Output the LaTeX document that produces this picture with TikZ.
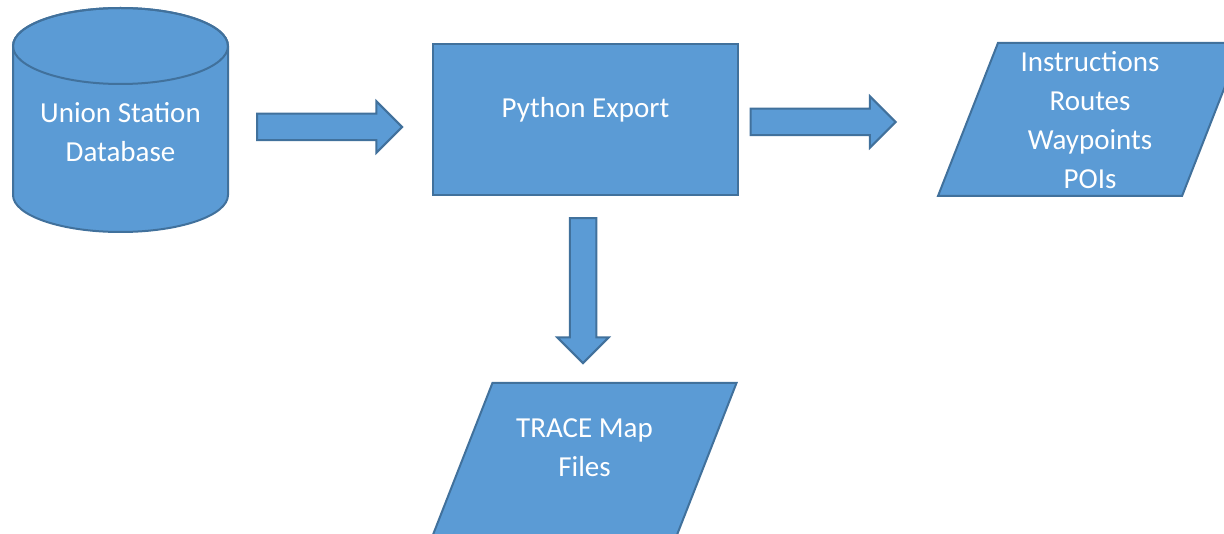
\documentclass[tikz,border=0pt]{standalone}
\usepackage{fontspec}
\setmainfont{Carlito}
\usetikzlibrary{shapes.geometric,shapes.arrows}
\definecolor{boxfill}{HTML}{5B9BD5}
\definecolor{boxline}{HTML}{41719C}
\tikzset{flowshape/.style={draw=boxline,fill=boxfill,line width=2pt,text=white,align=center,
 font=\fontsize{29}{39}\selectfont,inner sep=0pt},
 flowtext/.style={text=white,align=center,font=\fontsize{29}{39}\selectfont,inner sep=0pt},
 flowio/.style={flowshape,trapezium,trapezium left angle=68.6,trapezium right angle=111.4,
 trapezium stretches body=true,minimum width=304pt,minimum height=153pt},
 blockarrow/.style={flowshape,single arrow,single arrow head extend=12.5pt,minimum width=49pt,
 minimum height=145pt,inner sep=12.25pt}}

\begin{document}
\begin{tikzpicture}[x=1pt,y=1pt]
\useasboundingbox[fill=white] (0,0) rectangle (1224,-534);
% database drum
\filldraw[draw=boxline,fill=boxfill,line width=2pt] (13,-46) -- (13,-195)
 arc[start angle=180,end angle=360,x radius=107.5,y radius=37] -- (228,-46)
 arc[start angle=0,end angle=180,x radius=107.5,y radius=38] -- cycle;
\draw[draw=boxline,line width=2pt] (120.5,-46) ellipse[x radius=107.5,y radius=38];
\node[flowtext] (db) at (120.5,-132) {Union Station\\Database};
\node[flowshape,minimum width=305pt,minimum height=151pt,text depth=24pt] (py) at (585.5,-119.5) {Python Export};
\node[flowio,text height=146pt,text depth=7pt] (out) at (1090,-119.5) {Instructions\\Routes\\Waypoints\\POIs};
\node[flowio,text height=93pt,text depth=60pt] (map) at (584.5,-459.5) {TRACE Map\\Files};
\node[blockarrow] (dbpy) at (323,-127) {};
\node[blockarrow] (pyout) at (816.5,-122) {};
\node[blockarrow,shape border rotate=270] (pymap) at (583,-284) {};
\end{tikzpicture}
\end{document}
